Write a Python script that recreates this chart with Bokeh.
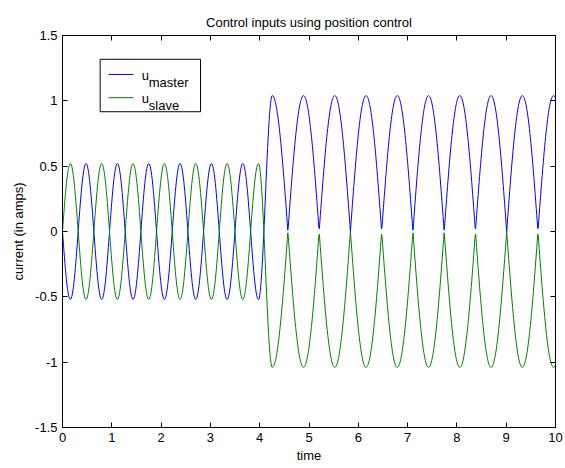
import numpy as np
from bokeh.plotting import figure
from bokeh.models import LinearAxis, FixedTicker, Range1d, CustomLabelingPolicy
from bokeh.core.properties import value
from bokeh.embed import file_html
from bokeh.resources import INLINE

# Simulation time base
t_start, t_end, t_step = 0.0, 10.0, 0.01

# Small oscillation before the controller switch, rectified large one after it
amplitude_small = 0.52
period_small = 0.636
amplitude_large = 1.04
period_large = 0.634      # spacing between the zero touches of the large wave
switch_start = 3.975      # last small peak of u_slave
switch_end = 4.255        # first large trough of u_slave

x_ticks = [0, 1, 2, 3, 4, 5, 6, 7, 8, 9, 10]
x_tick_labels = ["0", "1", "2", "3", "4", "5", "6", "7", "8", "9", "10"]
y_ticks = [-1.5, -1.0, -0.5, 0.0, 0.5, 1.0, 1.5]
y_tick_labels = ["-1.5", "-1", "-0.5", "0", "0.5", "1", "1.5"]

series_names = ["master", "slave"]
series_colors = ["#0000ff", "#008000"]

FONT = "Liberation Sans"

# Build the control signals
t = np.arange(t_start, t_end + t_step / 2, t_step)
u_slave = np.empty_like(t)
before = t <= switch_start
during = (t > switch_start) & (t <= switch_end)
after = t > switch_end
u_slave[before] = amplitude_small * np.sin(2 * np.pi * t[before] / period_small)
frac = (t[during] - switch_start) / (switch_end - switch_start)
u_slave[during] = ((amplitude_small - amplitude_large) / 2
                   + (amplitude_small + amplitude_large) / 2 * np.cos(np.pi * frac))
u_slave[after] = -amplitude_large * np.abs(np.cos(np.pi * (t[after] - switch_end) / period_large))
u_master = -u_slave
signals = {"master": u_master, "slave": u_slave}

p = figure(width=565, height=468,
           x_range=Range1d(0, 10), y_range=Range1d(-1.5, 1.5),
           output_backend="svg", toolbar_location=None,
           min_border_left=62, min_border_right=10,
           min_border_top=35, min_border_bottom=41,
           background_fill_color="white", border_fill_color="white")
p.outline_line_color = None
p.xgrid.grid_line_color = None
p.ygrid.grid_line_color = None

p.title.text = "Control inputs using position control"
p.title.align = "center"
p.title.text_font = FONT
p.title.text_font_size = "13px"
p.title.text_font_style = "normal"
p.title.text_color = "black"
p.title.standoff = 11

# Box axes with inward ticks on all four sides
p.add_layout(LinearAxis(), "above")
p.add_layout(LinearAxis(), "right")
for ax in p.xaxis:
    ax.ticker = FixedTicker(ticks=x_ticks)
    ax.major_label_overrides = dict(zip(x_ticks, x_tick_labels))
for ax in p.yaxis:
    ax.ticker = FixedTicker(ticks=y_ticks)
    ax.major_label_overrides = dict(zip(y_ticks, y_tick_labels))
for ax in p.xaxis + p.yaxis:
    ax.axis_line_color = "black"
    ax.axis_line_width = 1
    ax.major_tick_line_color = "black"
    ax.major_tick_in = 5
    ax.major_tick_out = 0
    ax.minor_tick_line_color = None
    ax.major_label_text_font = FONT
    ax.major_label_text_font_size = "13px"
    ax.major_label_text_color = "black"
    ax.major_label_standoff = 5
    ax.axis_label_text_font = FONT
    ax.axis_label_text_font_size = "13px"
    ax.axis_label_text_font_style = "normal"
    ax.axis_label_text_color = "black"

# The top and right axes only carry ticks, no labels
hide_all = CustomLabelingPolicy(code="""
    for (const i of indices) indices.unset(i)
    return indices
""")
for ax in (p.above[0], p.right[0]):
    ax.major_label_policy = hide_all
    ax.major_label_text_font_size = "0px"
    ax.major_label_standoff = 0

p.below[0].axis_label = "time"
p.below[0].axis_label_standoff = 3
p.left[0].axis_label = "current (in amps)"
p.left[0].axis_label_standoff = 6

for name, color in zip(series_names, series_colors):
    p.line(t, signals[name], line_color=color, line_width=1)

# Legend box with subscripted labels
legend_left, legend_right = 0.764, 2.800
legend_top, legend_bottom = 1.318, 0.9165
p.quad(left=[legend_left], right=[legend_right], top=[legend_top], bottom=[legend_bottom],
       fill_color="white", line_color="black", line_width=1)
row_y = [1.202, 1.024]
sample_x0, sample_x1 = 0.935, 1.441
base_x, sub_x = 1.608, 1.750
base_drop, sub_drop = 0.008, 0.061
for name, color, y in zip(series_names, series_colors, row_y):
    p.segment(x0=[sample_x0], y0=[y], x1=[sample_x1], y1=[y], line_color=color, line_width=1)
    p.text(x=[base_x], y=[y - base_drop], text=["u"], text_font=value(FONT),
           text_font_size="13px", text_color="black", text_baseline="alphabetic")
    p.text(x=[sub_x], y=[y - sub_drop], text=[name], text_font=value(FONT),
           text_font_size="13px", text_color="black", text_baseline="alphabetic")

open("out.html", "w").write(file_html(p, INLINE))
